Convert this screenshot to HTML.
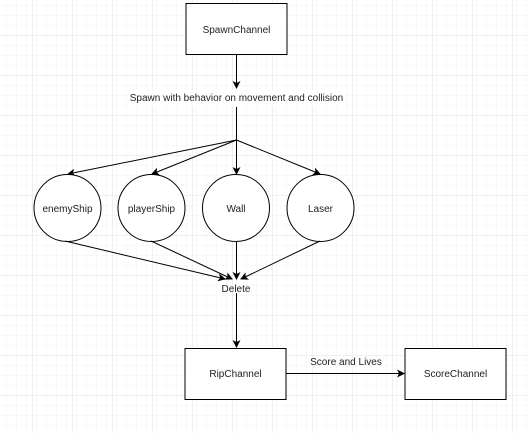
<!DOCTYPE html>
<html><head><style>
html,body{margin:0;padding:0;background:#fff;}
svg{display:block;}
text{font-family:"Liberation Sans",sans-serif;font-size:10px;fill:#222;}
</style></head><body>
<svg width="527" height="433" viewBox="0 0 527 433" xmlns="http://www.w3.org/2000/svg">
<defs>
<pattern id="g" width="10" height="10" patternUnits="userSpaceOnUse" x="-3" y="-4">
<path d="M10 0V10M0 10H10" fill="none" stroke="#f0f0f0" stroke-width="1"/>
</pattern>
<pattern id="G" width="40" height="40" patternUnits="userSpaceOnUse" x="-7" y="-4">
<path d="M40 0V40M0 40H40" fill="none" stroke="#e2e2e2" stroke-width="1"/>
</pattern>
<marker id="a" markerWidth="8" markerHeight="8" refX="7" refY="4" orient="auto" markerUnits="userSpaceOnUse">
<path d="M0 0L8 4L0 8L2 4Z" fill="#000"/>
</marker>
</defs>
<rect width="527" height="433" fill="url(#g)"/>
<rect width="527" height="433" fill="url(#G)"/>
<g stroke="#000" stroke-width="1" fill="none">
<rect x="186" y="3.5" width="101" height="51" fill="#fff"/>
<line x1="236.5" y1="55" x2="236.5" y2="88" marker-end="url(#a)"/>
<line x1="236.5" y1="107" x2="236.5" y2="140"/>
<line x1="236.5" y1="140" x2="68" y2="174" marker-end="url(#a)"/>
<line x1="236.5" y1="140" x2="152" y2="174" marker-end="url(#a)"/>
<line x1="236.5" y1="140" x2="236.5" y2="174" marker-end="url(#a)"/>
<line x1="236.5" y1="140" x2="320" y2="174" marker-end="url(#a)"/>
<circle cx="67.5" cy="208" r="33.5" fill="#fff"/>
<circle cx="151.5" cy="208" r="33.5" fill="#fff"/>
<circle cx="236" cy="208" r="33.5" fill="#fff"/>
<circle cx="320.5" cy="208" r="33.5" fill="#fff"/>
<line x1="65" y1="241" x2="225" y2="279" marker-end="url(#a)"/>
<line x1="151" y1="241" x2="232" y2="279" marker-end="url(#a)"/>
<line x1="236.5" y1="242" x2="236.5" y2="279" marker-end="url(#a)"/>
<line x1="320" y1="241" x2="241" y2="279" marker-end="url(#a)"/>
<line x1="236.5" y1="293" x2="236.5" y2="347" marker-end="url(#a)"/>
<rect x="185" y="348.5" width="101" height="51" fill="#fff"/>
<rect x="405" y="348.5" width="101" height="51" fill="#fff"/>
<line x1="286" y1="373.5" x2="404" y2="373.5" marker-end="url(#a)"/>
</g>
<rect x="128" y="90" width="218" height="16" fill="#fff"/>
<text x="236.5" y="33" text-anchor="middle">SpawnChannel</text>
<text x="236.5" y="101" text-anchor="middle">Spawn with behavior on movement and collision</text>
<text x="67.5" y="212" text-anchor="middle">enemyShip</text>
<text x="151.5" y="212" text-anchor="middle">playerShip</text>
<text x="236" y="212" text-anchor="middle">Wall</text>
<text x="320.5" y="212" text-anchor="middle">Laser</text>
<text x="236" y="292" text-anchor="middle">Delete</text>
<text x="235.5" y="377" text-anchor="middle">RipChannel</text>
<text x="455.5" y="377" text-anchor="middle">ScoreChannel</text>
<text x="346" y="365" text-anchor="middle">Score and Lives</text>
</svg>
</body></html>
